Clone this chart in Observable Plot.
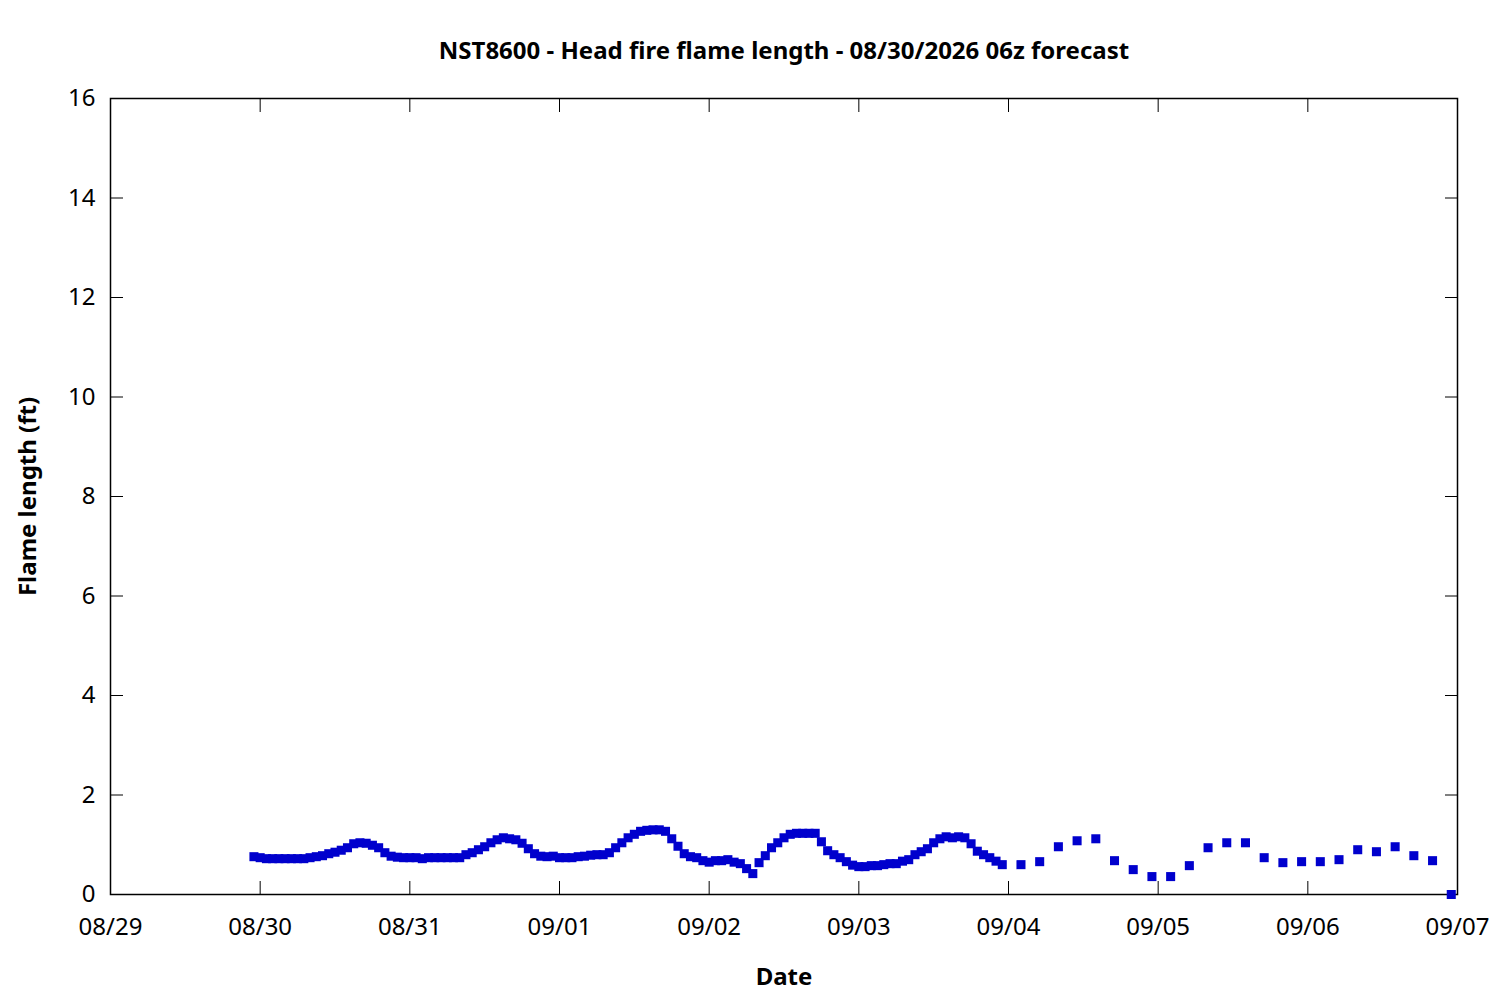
<!DOCTYPE html>
<html>
<head>
<meta charset="utf-8">
<script src="https://cdn.jsdelivr.net/npm/d3@7"></script>
<script src="https://cdn.jsdelivr.net/npm/@observablehq/plot@0.6"></script>
<style>
  html, body { margin: 0; padding: 0; background: #fff; }
  #wrap { position: relative; width: 1500px; height: 1000px; font-family: "Noto Sans", sans-serif; }
  #title { position: absolute; left: 0; top: 32px; width: 1568px; text-align: center; font-weight: bold; font-size: 24px; line-height: 36px; color: #000; }
</style>
</head>
<body>
<div id="wrap">
  <div id="title">NST8600 - Head fire flame length - 08/30/2026 06z forecast</div>
</div>
<script>
// Hourly forecast, starting 2026-08-29 23:00 UTC (121 values)
const hourlyStart = "2026-08-29T23:00:00Z";
const hourlyValues = [
  0.76,0.74,0.72,0.72,0.72,0.72,0.72,0.72,0.72,0.74,0.76,0.78,0.82,0.85,0.89,0.94,1.02,1.04,1.03,0.99,0.94,0.84,0.77,0.75,
  0.74,0.74,0.74,0.72,0.74,0.74,0.74,0.74,0.74,0.74,0.80,0.84,0.90,0.96,1.04,1.10,1.14,1.12,1.10,1.03,0.92,0.82,0.77,0.76,
  0.77,0.74,0.74,0.74,0.76,0.77,0.79,0.80,0.80,0.84,0.94,1.04,1.14,1.21,1.27,1.29,1.30,1.30,1.27,1.12,0.97,0.82,0.76,0.74,
  0.68,0.65,0.68,0.68,0.70,0.65,0.62,0.52,0.42,0.64,0.78,0.94,1.04,1.14,1.21,1.23,1.23,1.23,1.23,1.06,0.88,0.80,0.74,0.66,
  0.59,0.56,0.56,0.58,0.58,0.60,0.62,0.62,0.67,0.70,0.80,0.86,0.92,1.04,1.12,1.16,1.14,1.16,1.14,1.02,0.87,0.80,0.74,0.67,0.60
];
// 3-hourly forecast, starting 2026-09-04 02:00 UTC (24 values)
const threeHourlyStart = "2026-09-04T02:00:00Z";
const threeHourlyValues = [
  0.60,0.66,0.96,1.08,1.12,0.68,0.50,0.36,0.36,0.58,0.94,1.04,1.04,0.74,0.64,0.66,0.66,0.70,0.90,0.86,0.96,0.78,0.68,0.00
];
const xDomain = ["2026-08-29T00:00:00Z", "2026-09-07T00:00:00Z"];
const yTicks = [0, 2, 4, 6, 8, 10, 12, 14, 16];
const xTickLabels = ["08/29","08/30","08/31","09/01","09/02","09/03","09/04","09/05","09/06","09/07"];

const HOUR = 3600 * 1000;
const data = [];
const h0 = new Date(hourlyStart).getTime();
hourlyValues.forEach((v, i) => data.push({date: new Date(h0 + i * HOUR), value: v}));
const t0 = new Date(threeHourlyStart).getTime();
threeHourlyValues.forEach((v, i) => data.push({date: new Date(t0 + i * 3 * HOUR), value: v}));

const xTicks = xTickLabels.map((_, i) => new Date(new Date(xDomain[0]).getTime() + i * 24 * HOUR));
const labelFor = new Map(xTicks.map((d, i) => [+d, xTickLabels[i]]));

const chart = Plot.plot({
  width: 1500,
  height: 1000,
  marginTop: 98,
  marginBottom: 106,
  marginLeft: 110,
  marginRight: 43,
  style: {fontFamily: "Noto Sans, sans-serif", fontSize: "24px", color: "#000", background: "#fff"},
  x: {type: "utc", domain: xDomain.map(d => new Date(d))},
  y: {domain: [0, 16]},
  marks: [
    Plot.frame({stroke: "#000", strokeWidth: 1.5}),
    Plot.axisY(yTicks, {anchor: "left", tickSize: -13, text: null, label: null}),
    Plot.axisY(yTicks, {anchor: "right", tickSize: -13, text: null, label: null}),
    Plot.axisY(yTicks, {anchor: "left", tickSize: 0, tickPadding: 15, fontSize: 24,
      tickFormat: d3.format("d"),
      label: "Flame length (ft)", labelAnchor: "center", labelOffset: 92, labelArrow: "none"}),
    Plot.axisX(xTicks, {anchor: "bottom", tickSize: 0, tickPadding: 23, fontSize: 24,
      tickFormat: d => labelFor.get(+d),
      label: "Date", labelAnchor: "center", labelOffset: 90, labelArrow: "none"}),
    Plot.axisX(xTicks, {anchor: "bottom", tickSize: -13, text: null, label: null}),
    Plot.axisX(xTicks, {anchor: "top", tickSize: -13, text: null, label: null}),
    Plot.dot(data, {x: "date", y: "value", symbol: "square", r: 5.1, fill: "#0000cd", stroke: null})
  ]
});
document.getElementById("wrap").appendChild(chart);
// bold axis titles
chart.querySelectorAll("[aria-label='y-axis label'] text, [aria-label='x-axis label'] text").forEach(t => {
  t.setAttribute("font-weight", "bold");
  t.setAttribute("font-size", "24");
});
</script>
</body>
</html>
